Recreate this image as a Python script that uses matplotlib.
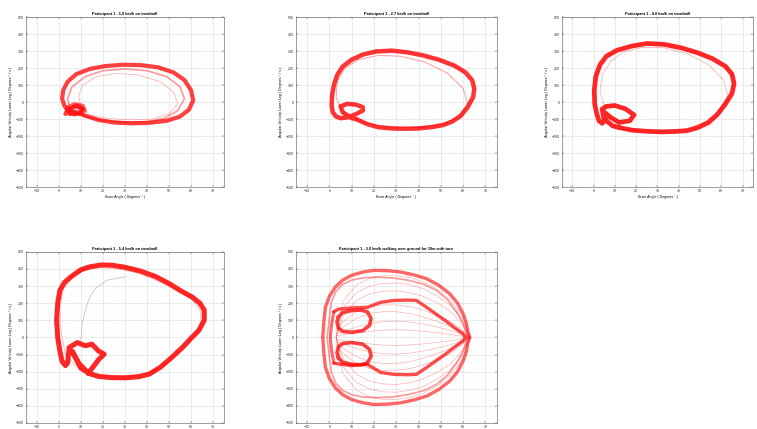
"""
Knee angle vs lower-leg angular velocity phase plots, participant 1
"""

import matplotlib.pyplot as plt
from matplotlib.ticker import MultipleLocator

# ---- panel titles / labels ----
titles = [
    'Participant 1 - 1.8 km/h on treadmill',
    'Participant 1 - 2.7 km/h on treadmill',
    'Participant 1 - 4.0 km/h on treadmill',
    'Participant 1 - 5.4 km/h on treadmill',
    'Participant 1 - 3.0 km/h walking over ground for 10m with turn',
]
x_label = 'Knee Angle ( Degrees \u00b0 )'
y_label = 'Angular Velocity Lower Leg ( Degrees \u00b0 / s )'

# ---- 1.8 km/h ----
p1_knee = [8, 12, 18, 25, 33, 41, 49, 55, 59, 61, 60, 57, 52, 45, 37, 29, 21, 14,
           8, 4, 2, 1.5, 2.5, 4, 3, 5, 8, 11, 9, 5, 4, 8]
p1_vel = [-60, -80, -105, -120, -125, -122, -110, -85, -45, 10, 70, 130, 175, 205,
          218, 220, 212, 195, 165, 120, 70, 20, -20, -50, -70, -40, -20, -40, -65, -70, -45, -60]
p1_knee_b = [12, 20, 30, 40, 48, 54, 57, 55, 49, 40, 30, 20, 12, 6, 4, 5, 12]
p1_vel_b = [-85, -108, -118, -115, -95, -50, 20, 90, 150, 185, 195, 185, 150, 90, 20, -40, -85]
p1_knee_c = [14, 22, 32, 42, 50, 54, 52, 46, 36, 26, 17, 11, 9, 10, 14]
p1_vel_c = [-75, -95, -105, -100, -70, -10, 60, 120, 160, 170, 150, 100, 40, -30, -75]
p1_knee_blob = [4, 7, 11, 12, 9, 5, 3.5, 6, 10, 11, 7, 4]
p1_vel_blob = [-30, -10, -20, -50, -70, -65, -45, -25, -35, -60, -75, -30]

# ---- 2.7 km/h ----
p2_knee = [12, 17, 22, 28, 34, 40, 46, 51, 55, 59, 62, 64.5, 65, 64, 61, 56, 49, 42,
           35, 28, 21, 15, 10, 6, 3.5, 2, 1.2, 1, 1.5, 3, 5, 8, 12, 15, 15, 12, 8,
           5, 6, 10, 12]
p2_vel = [-100, -130, -148, -155, -157, -155, -147, -135, -115, -80, -30, 30, 80,
          130, 175, 215, 250, 275, 293, 303, 298, 280, 250, 210, 160, 100, 40, -20,
          -60, -85, -95, -90, -70, -50, -30, -15, -10, -25, -60, -95, -100]
p2_knee_b = [14, 22, 32, 42, 52, 58, 62, 60, 53, 43, 32, 22, 13, 7, 3.5, 3, 6, 14]
p2_vel_b = [-115, -140, -150, -148, -125, -85, -10, 80, 170, 235, 270, 275, 250,
            200, 120, 30, -60, -115]

# ---- 4.0 km/h ----
p3_knee = [12, 18, 25, 32, 38, 44, 49, 54, 58, 62, 65, 66, 65, 62, 56, 49, 41, 33,
           25, 18, 11, 6, 3, 1, 0.3, 0.5, 1.5, 2.5, 4, 5, 4, 6, 10, 15, 19, 17,
           12, 8, 5, 6, 9, 12]
p3_vel = [-150, -165, -172, -175, -173, -168, -150, -120, -75, -10, 50, 110, 165,
          210, 255, 290, 320, 340, 345, 330, 305, 270, 220, 150, 70, -10, -70,
          -110, -125, -110, -40, -25, -20, -40, -75, -110, -120, -90, -60, -110,
          -140, -150]
p3_knee_b = [14, 22, 32, 42, 52, 59, 63, 61, 54, 44, 33, 23, 14, 8, 4, 3, 6, 14]
p3_vel_b = [-160, -170, -172, -165, -120, -50, 40, 130, 220, 285, 320, 322, 295,
            240, 160, 60, -60, -160]

# ---- 5.4 km/h ----
p4_knee = [13.5, 18, 24, 30, 36, 41, 46, 51, 56, 60, 63.5, 66, 66, 64, 60.5, 55, 50,
           44, 37, 30, 24, 19, 14, 10, 5.5, 2.5, 0.5, -0.5, -1, -0.5, 0.5, 1.5, 3,
           4, 4.7, 8.4, 12, 15, 18, 20.6, 18, 16.5, 13.5, 10, 7.6, 6, 9, 13.5]
p4_vel = [-210, -228, -235, -236, -230, -215, -175, -120, -60, -5, 40, 100, 160, 200,
          236, 275, 315, 355, 388, 410, 422, 423, 412, 395, 354, 320, 275, 200,
          100, 0, -80, -140, -165, -150, -59, -30, -49, -39, -79, -98, -130, -157,
          -207, -180, -118, -80, -150, -210]
p4_knee_b = [14, 20, 28, 36, 44, 52, 59, 64, 64.5, 61, 54, 45, 36, 27, 19, 12, 6,
             2, 0.5, 1, 3, 8, 14]
p4_vel_b = [-200, -220, -228, -222, -190, -120, -40, 60, 150, 215, 275, 330, 375,
            400, 408, 395, 355, 280, 170, 40, -100, -170, -200]
p4_knee_gray = [10, 10.6, 12, 14, 17, 22, 30]
p4_vel_gray = [-20, 79, 160, 236, 290, 335, 354]

# ---- 3.0 km/h over ground with turn ----
p5_outer_knee = [-3, -2.5, -1.8, 0, 2.6, 6, 10, 15, 20, 26, 32, 38, 43.6, 49, 54,
                 57.5, 60, 61.5, 62, 63, 62, 61.5, 60, 57.5, 54, 49, 43.6, 38, 32,
                 26, 20, 15, 10, 6, 2.6, 0, -1.8, -2.5, -3]
p5_outer_vel = [0, 90, 176, 240, 294, 335, 363, 382, 392, 390, 382, 365, 343, 305,
                255, 200, 137, 80, 39, 0, -39, -80, -137, -200, -255, -305, -343,
                -365, -382, -390, -392, -382, -363, -335, -294, -240, -176, -90, 0]
p5_outer2_knee = [-1, 0, 1, 3, 6, 10, 15, 21, 28, 35, 42, 48, 53, 57, 60, 62, 60,
                  57, 53, 48, 42, 35, 28, 21, 15, 10, 6, 3, 1, 0, -1]
p5_outer2_vel = [0, 120, 210, 270, 310, 335, 348, 352, 348, 335, 312, 275, 220, 150,
                 80, 0, -80, -150, -220, -275, -312, -335, -348, -352, -348, -335,
                 -310, -270, -210, -120, 0]
p5_mid_knee = [2, 4, 10, 17, 23, 29, 35, 39, 43.6, 48, 52, 56, 60, 61, 60, 56, 52,
               48, 43.6, 39, 35, 29, 23, 17, 10, 4, 2]
p5_mid_vel = [150, 165, 172, 176, 205, 216, 218, 216, 176, 135, 98, 58, 20, 0, -20,
              -58, -98, -135, -176, -216, -218, -216, -205, -157, -165, -155, -150]
p5_up_knee = [4, 6, 10, 14, 17, 18.7, 18, 15, 10, 6, 4, 3.4, 4]
p5_up_vel = [120, 145, 157, 160, 150, 110, 70, 40, 30, 35, 55, 90, 120]
p5_low_knee = [4, 6, 10, 14, 17, 18.7, 18, 15, 10, 6, 4, 3.4, 4]
p5_low_vel = [-120, -145, -157, -160, -150, -110, -70, -40, -30, -35, -55, -90, -120]
p5_left_knee = [2, 1, 0.5, 0.5, 1, 2]
p5_left_vel = [150, 80, 20, -20, -80, -150]

# thin strides filling the middle of the turn plot
p5_fan_knee = [3, 6, 12, 18, 24, 30, 36, 42, 48, 54, 58, 61, 63]
p5_fan_vel = [
    [0, 210, 305, 345, 360, 360, 350, 325, 285, 220, 155, 85, 0],
    [0, 170, 260, 300, 315, 318, 308, 285, 245, 190, 130, 65, 0],
    [0, 120, 215, 255, 270, 272, 262, 240, 205, 155, 100, 50, 0],
    [40, 90, 150, 180, 190, 190, 180, 160, 130, 95, 60, 25, 0],
    [30, 60, 110, 140, 150, 150, 140, 120, 95, 65, 40, 15, 0],
    [20, 35, 60, 80, 92, 95, 90, 78, 62, 42, 25, 10, 0],
    [10, 15, 25, 35, 42, 45, 42, 36, 28, 18, 10, 5, 0],
    [-10, -18, -28, -38, -45, -47, -44, -38, -30, -20, -12, -5, 0],
    [-20, -38, -65, -85, -95, -98, -92, -80, -64, -44, -26, -10, 0],
    [-30, -62, -112, -142, -152, -152, -142, -122, -96, -66, -40, -15, 0],
    [-40, -92, -152, -182, -192, -192, -182, -162, -132, -96, -60, -25, 0],
    [0, -120, -215, -255, -272, -275, -265, -242, -207, -157, -102, -50, 0],
    [0, -170, -262, -302, -318, -320, -310, -287, -247, -192, -132, -66, 0],
    [0, -210, -305, -348, -362, -362, -352, -327, -287, -222, -157, -86, 0],
]

RED = '#ff0000'


def style_axes(ax, title, show_xlabel=True):
    """MATLAB-like look: box, inward ticks, major + minor grid"""
    ax.set_xlim(-15, 75)
    ax.set_ylim(-500, 500)
    ax.xaxis.set_major_locator(MultipleLocator(10))
    ax.yaxis.set_major_locator(MultipleLocator(100))
    ax.xaxis.set_minor_locator(MultipleLocator(5))
    ax.yaxis.set_minor_locator(MultipleLocator(50))
    ax.grid(True, which='major', color='#dcdcdc', lw=0.4)
    ax.grid(True, which='minor', color='#eeeeee', lw=0.3, ls=':')
    ax.set_axisbelow(True)
    ax.tick_params(which='both', direction='in', length=1.2, width=0.3,
                   labelsize=2.6, pad=1.5, colors='#333333', top=True, right=True)
    ax.tick_params(which='minor', length=0)
    for s in ax.spines.values():
        s.set_linewidth(0.4)
        s.set_color('#555555')
    ax.set_title(title, fontsize=2.8, fontweight='bold', pad=1.5)
    if show_xlabel:
        ax.set_xlabel(x_label, fontsize=2.6, labelpad=1)
    ax.set_ylabel(y_label, fontsize=2.6, labelpad=2)


def draw_loop(ax, knee, vel, lw=3.0, alpha=0.75):
    ax.plot(knee, vel, color=RED, lw=lw, alpha=alpha, solid_joinstyle='round',
            solid_capstyle='round')


def main():
    plt.rcParams['font.family'] = ['Liberation Sans', 'DejaVu Sans']
    fig = plt.figure(figsize=(7.57, 4.29), dpi=100)

    top_b, top_h = 0.564, 0.396
    bot_b, bot_h = 0.014, 0.399
    ax1 = fig.add_axes([0.034, top_b, 0.262, top_h])
    ax2 = fig.add_axes([0.391, top_b, 0.265, top_h])
    ax3 = fig.add_axes([0.742, top_b, 0.253, top_h])
    ax4 = fig.add_axes([0.034, bot_b, 0.262, bot_h])
    ax5 = fig.add_axes([0.391, bot_b, 0.265, bot_h])

    # 1.8 km/h
    draw_loop(ax1, p1_knee_c, p1_vel_c, lw=0.5, alpha=0.35)
    draw_loop(ax1, p1_knee_b, p1_vel_b, lw=1.2, alpha=0.4)
    draw_loop(ax1, p1_knee, p1_vel, lw=3.0, alpha=0.75)
    draw_loop(ax1, p1_knee_blob, p1_vel_blob, lw=2.5, alpha=0.6)
    style_axes(ax1, titles[0])

    # 2.7 km/h
    draw_loop(ax2, p2_knee_b, p2_vel_b, lw=0.8, alpha=0.35)
    draw_loop(ax2, p2_knee, p2_vel, lw=3.2, alpha=0.8)
    style_axes(ax2, titles[1])

    # 4.0 km/h
    draw_loop(ax3, p3_knee_b, p3_vel_b, lw=0.6, alpha=0.3)
    draw_loop(ax3, p3_knee, p3_vel, lw=3.4, alpha=0.85)
    style_axes(ax3, titles[2])

    # 5.4 km/h
    ax4.plot(p4_knee_gray, p4_vel_gray, color='#c8a0a0', lw=0.5, alpha=0.8)
    draw_loop(ax4, p4_knee_b, p4_vel_b, lw=0.6, alpha=0.3)
    draw_loop(ax4, p4_knee, p4_vel, lw=3.6, alpha=0.85)
    style_axes(ax4, titles[3], show_xlabel=False)

    # over ground with turn
    for vel in p5_fan_vel:
        ax5.plot(p5_fan_knee, vel, color=RED, lw=0.5, alpha=0.3)
    draw_loop(ax5, p5_outer2_knee, p5_outer2_vel, lw=1.2, alpha=0.4)
    draw_loop(ax5, p5_outer_knee, p5_outer_vel, lw=2.4, alpha=0.6)
    draw_loop(ax5, p5_left_knee, p5_left_vel, lw=2.2, alpha=0.6)
    draw_loop(ax5, p5_mid_knee, p5_mid_vel, lw=2.4, alpha=0.7)
    draw_loop(ax5, p5_up_knee, p5_up_vel, lw=2.6, alpha=0.75)
    draw_loop(ax5, p5_low_knee, p5_low_vel, lw=2.6, alpha=0.75)
    style_axes(ax5, titles[4], show_xlabel=False)

    fig.savefig('out.png', dpi=100)


if __name__ == '__main__':
    main()
